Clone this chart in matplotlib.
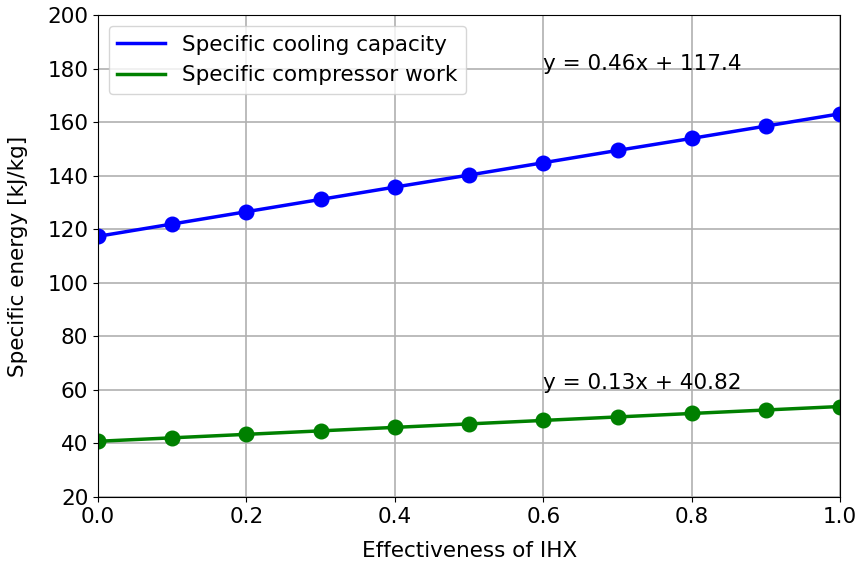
import matplotlib
matplotlib.use("Agg")
import matplotlib.pyplot as plt

effectiveness = [0.0, 0.1, 0.2, 0.3, 0.4, 0.5, 0.6, 0.7, 0.8, 0.9, 1.0]
cooling_capacity = [117.4, 122.0, 126.6, 131.2, 135.8, 140.3, 144.9, 149.5, 154.0, 158.6, 163.2]
compressor_work = [40.8, 42.1, 43.4, 44.7, 46.0, 47.3, 48.6, 49.9, 51.2, 52.5, 53.8]

fs = 15.5
fig = plt.figure(figsize=(8.6, 5.66), dpi=100)
ax = fig.add_axes([0.114, 0.122, 0.863, 0.851])

ax.plot(effectiveness, cooling_capacity, color="blue", lw=2.5, label="Specific cooling capacity")
ax.plot(effectiveness, cooling_capacity, "o", color="blue", ms=10.5)
ax.plot(effectiveness, compressor_work, color="green", lw=2.5, label="Specific compressor work")
ax.plot(effectiveness, compressor_work, "o", color="green", ms=10.5)

ax.text(0.6, 179.5, "y = 0.46x + 117.4", fontsize=fs)
ax.text(0.6, 60.5, "y = 0.13x + 40.82", fontsize=fs)

ax.set_xlim(0, 1)
ax.set_ylim(20, 200)
ax.set_xticks([0.0, 0.2, 0.4, 0.6, 0.8, 1.0])
ax.set_yticks(range(20, 201, 20))
ax.tick_params(labelsize=fs)
ax.grid(True, color="#b0b0b0", lw=1.2)
ax.set_xlabel("Effectiveness of IHX", fontsize=fs, labelpad=10)
ax.set_ylabel("Specific energy [kJ/kg]", fontsize=fs, labelpad=14)
ax.legend(loc="upper left", fontsize=fs, handlelength=2.2)

fig.savefig("out.png", dpi=100)
